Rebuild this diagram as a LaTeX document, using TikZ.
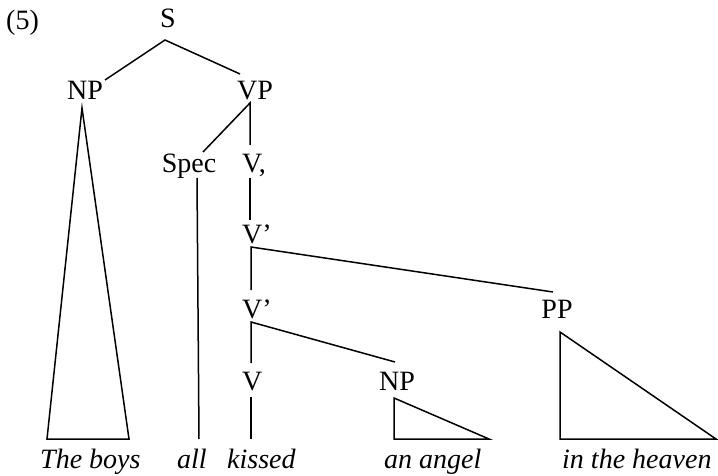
\documentclass[tikz,border=0pt]{standalone}
\usepackage{fontspec}
\setmainfont{Liberation Serif}
\begin{document}
\begin{tikzpicture}[x=1pt,y=-1pt,
  lbl/.style={inner sep=0pt,anchor=base,font=\fontsize{28}{32}\selectfont},
  leaf/.style={inner sep=0pt,anchor=base west,font=\fontsize{28}{32}\selectfont\itshape},
  edge/.style={line width=1.5pt,line join=miter}]
\useasboundingbox (0,0) rectangle (718,476);
% labels
\node[lbl,anchor=base west] (ex) at (6,30) {(5)};
\node[lbl] (S) at (168,28) {S};
\node[lbl] (NP) at (85,100) {NP};
\node[lbl] (VP) at (255,100) {VP};
\node[lbl] (Spec) at (189,173) {Spec};
\node[lbl,anchor=base west] (Vbar0) at (242,173) {V,};
\node[lbl,anchor=base west] (Vbar1) at (242,243) {V’};
\node[lbl,anchor=base west] (Vbar2) at (242,318) {V’};
\node[lbl,anchor=base west] (V) at (242,390) {V};
\node[lbl] (NP2) at (397,390) {NP};
\node[lbl] (PP) at (557,318) {PP};
% leaves
\node[leaf] (w1) at (40,468) {The boys};
\node[leaf] (w2) at (177,468) {all};
\node[leaf] (w3) at (227,468) {kissed};
\node[leaf] (w4) at (384,468) {an angel};
\node[leaf] (w5) at (562,468) {in the heaven};
% connector points
\coordinate (Sb) at (165,40);
\coordinate (NPt) at (105,80);
\coordinate (VPt) at (240,74);
\coordinate (NPb) at (82,108);
\coordinate (NPl) at (47,439);
\coordinate (NPr) at (129,439);
\coordinate (VPb) at (250,103);
\coordinate (Spect) at (203,152);
\coordinate (V0t) at (250,145);
\coordinate (Specb) at (197,178);
\coordinate (allt) at (199,439);
\coordinate (V0b) at (250,178);
\coordinate (V1t) at (250,220);
\coordinate (V1b) at (251,247);
\coordinate (V2t) at (251,290);
\coordinate (PPt) at (553,292);
\coordinate (V2b) at (251,322);
\coordinate (Vt) at (251,363);
\coordinate (NP2t) at (395,362);
\coordinate (Vb) at (251,397);
\coordinate (kt) at (251,439);
\coordinate (NP2a) at (394,398);
\coordinate (NP2l) at (394,439);
\coordinate (NP2r) at (489,439);
\coordinate (PPa) at (560,332);
\coordinate (PPl) at (560,439);
\coordinate (PPr) at (716,439);
% edges
\draw[edge] (NPt) -- (Sb) -- (VPt);
\draw[edge] (NPb) -- (NPl) -- (NPr) -- cycle;
\draw[edge] (Spect) -- (VPb) -- (V0t);
\draw[edge] (Specb) -- (allt);
\draw[edge] (V0b) -- (V1t);
\draw[edge] (V2t) -- (V1b) -- (PPt);
\draw[edge] (Vt) -- (V2b) -- (NP2t);
\draw[edge] (Vb) -- (kt);
\draw[edge] (NP2a) -- (NP2l) -- (NP2r) -- cycle;
\draw[edge] (PPa) -- (PPl) -- (PPr) -- cycle;
\end{tikzpicture}
\end{document}
